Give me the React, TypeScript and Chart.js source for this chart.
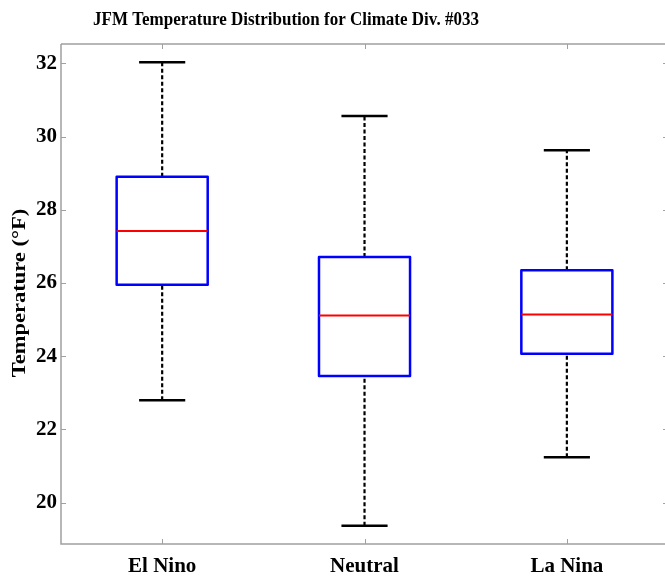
import React, { useEffect, useRef } from 'react';
import { Chart, registerables } from 'chart.js';

Chart.register(...registerables);

const categories = ['El Nino', 'Neutral', 'La Nina'];
const xPositions = [1, 2, 3];
const whiskerLow = [22.8, 19.37, 21.24];
const q1 = [25.95, 23.46, 24.07];
const median = [27.42, 25.11, 25.14];
const q3 = [28.9, 26.71, 26.35];
const whiskerHigh = [32.03, 30.56, 29.63];
const yTickValues = [20, 22, 24, 26, 28, 30, 32];
const titleText = 'JFM Temperature Distribution for Climate Div. #033';
const yLabel = 'Temperature (\u00B0F)';

const BOX_HALF = 0.225;
const CAP_HALF = 0.114;
const FONT = '"Liberation Serif", "Times New Roman", serif';

const common = {
  pointRadius: 0,
  pointHoverRadius: 0,
  fill: false,
  tension: 0,
  spanGaps: false,
  showLine: true,
  borderJoinStyle: 'round',
  borderCapStyle: 'butt',
};

function buildDatasets() {
  const ds: any[] = [];
  xPositions.forEach((c, i) => {
    ds.push({
      ...common,
      label: categories[i] + ' whiskers',
      data: [
        { x: c, y: q3[i] },
        { x: c, y: whiskerHigh[i] },
        { x: c, y: null },
        { x: c, y: whiskerLow[i] },
        { x: c, y: q1[i] },
      ],
      borderColor: '#000000',
      borderWidth: 2.2,
      borderDash: [4, 2.5],
      order: 3,
    });
    ds.push({
      ...common,
      label: categories[i] + ' caps',
      data: [
        { x: c - CAP_HALF, y: whiskerHigh[i] },
        { x: c + CAP_HALF, y: whiskerHigh[i] },
        { x: c, y: null },
        { x: c - CAP_HALF, y: whiskerLow[i] },
        { x: c + CAP_HALF, y: whiskerLow[i] },
      ],
      borderColor: '#000000',
      borderWidth: 2.5,
      order: 2,
    });
    ds.push({
      ...common,
      label: categories[i] + ' box',
      data: [
        { x: c - BOX_HALF, y: q1[i] },
        { x: c + BOX_HALF, y: q1[i] },
        { x: c + BOX_HALF, y: q3[i] },
        { x: c - BOX_HALF, y: q3[i] },
        { x: c - BOX_HALF, y: q1[i] },
        { x: c + BOX_HALF, y: q1[i] },
      ],
      borderColor: '#0000ff',
      borderWidth: 2.5,
      order: 1,
    });
    ds.push({
      ...common,
      label: categories[i] + ' median',
      data: [
        { x: c - BOX_HALF, y: median[i] },
        { x: c + BOX_HALF, y: median[i] },
      ],
      borderColor: '#ff0000',
      borderWidth: 2,
      order: 0,
    });
  });
  return ds;
}

const framePlugin = {
  id: 'matlabFrame',
  afterDraw(chart: any) {
    const { ctx, chartArea } = chart;
    const xs = chart.scales.x;
    const ys = chart.scales.y;
    const { left, top, bottom, right } = chartArea;
    ctx.save();
    ctx.strokeStyle = '#a0a0a0';
    ctx.lineWidth = 1.5;
    ctx.beginPath();
    ctx.moveTo(left, top);
    ctx.lineTo(right + 5, top);
    ctx.moveTo(left, top);
    ctx.lineTo(left, bottom);
    ctx.lineTo(right + 5, bottom);
    ctx.stroke();
    ctx.lineWidth = 1;
    ctx.beginPath();
    const rightEdge = xs.getPixelForValue(3.5);
    xPositions.forEach((v) => {
      const px = Math.round(xs.getPixelForValue(v)) + 0.5;
      ctx.moveTo(px, bottom);
      ctx.lineTo(px, bottom - 5);
      ctx.moveTo(px, top);
      ctx.lineTo(px, top + 5);
    });
    yTickValues.forEach((v) => {
      const py = Math.round(ys.getPixelForValue(v)) + 0.5;
      ctx.moveTo(left, py);
      ctx.lineTo(left + 5, py);
      ctx.moveTo(rightEdge, py);
      ctx.lineTo(rightEdge - 5, py);
    });
    ctx.stroke();

    ctx.fillStyle = '#000000';
    // title
    ctx.save();
    ctx.font = 'bold 17px ' + FONT;
    ctx.textAlign = 'center';
    ctx.textBaseline = 'alphabetic';
    ctx.translate(286, 25);
    ctx.scale(1, 1.15);
    ctx.fillText(titleText, 0, 0);
    ctx.restore();
    // y label
    ctx.save();
    ctx.font = 'bold 18px ' + FONT;
    ctx.textAlign = 'center';
    ctx.textBaseline = 'middle';
    ctx.translate(20, (top + bottom) / 2 - 1);
    ctx.rotate(-Math.PI / 2);
    ctx.scale(1.25, 1);
    ctx.fillText(yLabel, 0, 0);
    ctx.restore();
    ctx.restore();
  },
};

export default function App() {
  const canvasRef = useRef<HTMLCanvasElement | null>(null);
  useEffect(() => {
    if (!canvasRef.current) return;
    const chart = new Chart(canvasRef.current, {
      type: 'line',
      data: { datasets: buildDatasets() },
      plugins: [framePlugin],
      options: {
        animation: false,
        responsive: true,
        maintainAspectRatio: false,
        events: [],
        layout: { padding: { top: 44, left: 0, right: 0, bottom: 0 } },
        plugins: {
          legend: { display: false },
          tooltip: { enabled: false },
          title: { display: false },
        },
        scales: {
          x: {
            type: 'linear',
            min: 0.5,
            max: 3.485,
            grid: { display: false, drawTicks: false, tickLength: 0 },
            border: { display: false },
            afterBuildTicks: (s: any) => {
              s.ticks = xPositions.map((v) => ({ value: v }));
            },
            afterFit: (s: any) => {
              s.height = 37;
            },
            ticks: {
              callback: (v: any) => {
                const idx = xPositions.indexOf(Number(v));
                return idx >= 0 ? categories[idx] : '';
              },
              font: { family: FONT, size: 21, weight: 'bold' },
              color: '#000000',
              padding: 10,
              maxRotation: 0,
              autoSkip: false,
            },
          },
          y: {
            type: 'linear',
            min: 18.87,
            max: 32.53,
            grid: { display: false, drawTicks: false, tickLength: 0 },
            border: { display: false },
            afterBuildTicks: (s: any) => {
              s.ticks = yTickValues.map((v) => ({ value: v }));
            },
            afterFit: (s: any) => {
              s.width = 61;
            },
            ticks: {
              font: { family: FONT, size: 21, weight: 'bold' },
              color: '#000000',
              padding: 4,
              autoSkip: false,
            },
          },
        },
      } as any,
    });
    return () => chart.destroy();
  }, []);
  return (
    <div style={{ position: 'absolute', left: 0, top: 0, width: 665, height: 581 }}>
      <canvas ref={canvasRef} />
    </div>
  );
}
